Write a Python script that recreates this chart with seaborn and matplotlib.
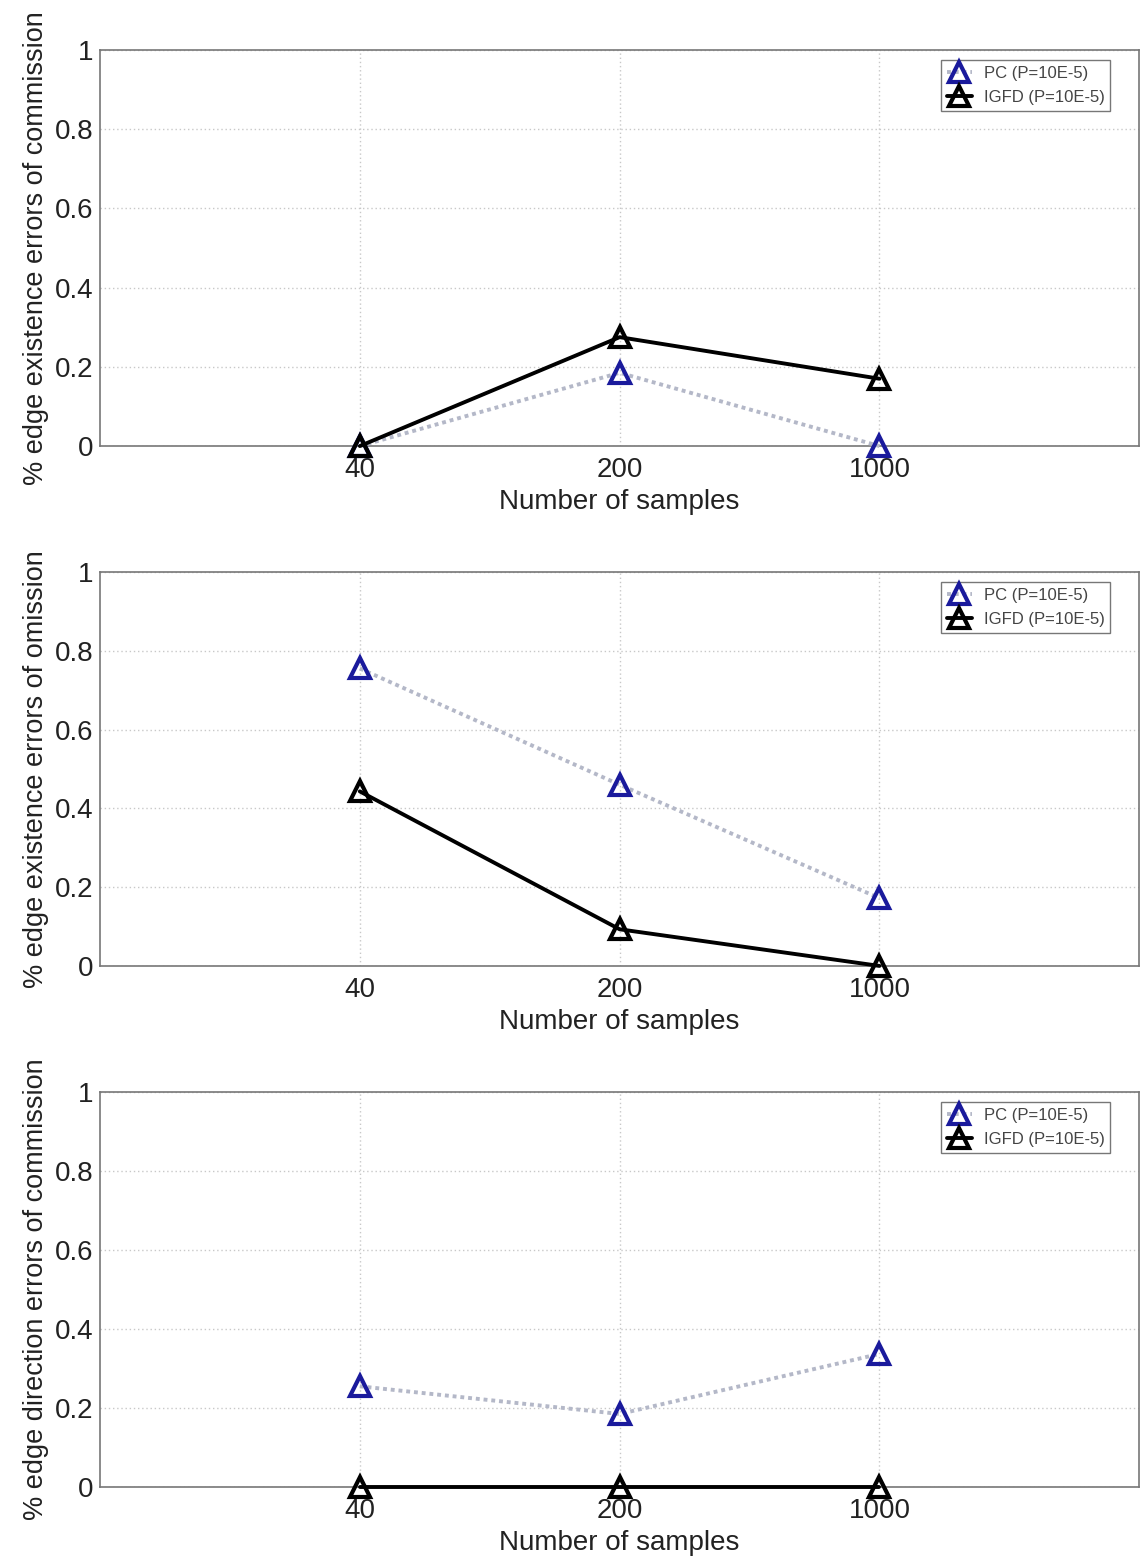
import numpy as np
import pandas as pd
import seaborn as sns
import matplotlib
matplotlib.use("Agg")
import matplotlib.pyplot as plt

samples = ["40", "200", "1000"]
series = ["PC (P=10E-5)", "IGFD (P=10E-5)"]

pc_commission = [0.0, 0.185, 0.0]
igfd_commission = [0.0, 0.275, 0.17]
pc_omission = [0.755, 0.46, 0.172]
igfd_omission = [0.443, 0.093, 0.0]
pc_direction = [0.255, 0.185, 0.337]
igfd_direction = [0.0, 0.0, 0.0]

ylabels = ["% edge existence errors of commission",
           "% edge existence errors of omission",
           "% edge direction errors of commission"]

panels = [(pc_commission, igfd_commission),
          (pc_omission, igfd_omission),
          (pc_direction, igfd_direction)]

sns.set_style("whitegrid")
plt.rcParams['font.family'] = ['Liberation Sans', 'DejaVu Sans']

fig = plt.figure(figsize=(11.44, 15.64), dpi=100)
rects = [[0.0874, 0.7148, 0.9085, 0.2532],
         [0.0874, 0.3824, 0.9085, 0.2519],
         [0.0874, 0.0492, 0.9085, 0.2526]]

styles = {series[0]: dict(color="#b4b8c8", ls=(0, (1, 1)), lw=2.8, mec="#1a1a9c"),
          series[1]: dict(color="black", ls="-", lw=2.8, mec="black")}

for rect, (pc, igfd), ylab in zip(rects, panels, ylabels):
    ax = fig.add_axes(rect)
    df = pd.DataFrame({
        "pos": list(range(1, len(samples) + 1)) * 2,
        "value": pc + igfd,
        "method": [series[0]] * len(samples) + [series[1]] * len(samples),
    })
    for name in series:
        st = styles[name]
        sns.lineplot(data=df[df["method"] == name], x="pos", y="value", ax=ax,
                     color=st["color"], linestyle=st["ls"], linewidth=st["lw"],
                     marker="^", markersize=14, markerfacecolor="none",
                     markeredgecolor=st["mec"], markeredgewidth=3, label=name,
                     clip_on=False, zorder=5)
    ax.set_xlim(0, 4)
    ax.set_ylim(0, 1)
    ax.set_xticks(range(1, len(samples) + 1))
    ax.set_xticklabels(samples)
    ax.set_yticks([0, 0.2, 0.4, 0.6, 0.8, 1])
    ax.set_yticklabels(["0", "0.2", "0.4", "0.6", "0.8", "1"])
    ax.tick_params(axis="both", labelsize=20, direction="in", length=6,
                   color="#555555", labelcolor="#222222")
    ax.tick_params(axis="x", pad=8)
    ax.tick_params(axis="y", pad=5)
    ax.set_xlabel("Number of samples", fontsize=20, labelpad=4, color="#222222")
    ax.set_ylabel(ylab, fontsize=19.5, labelpad=4, color="#222222")
    ax.grid(True, color="#c8c8c8", linestyle=(0, (1, 2)), linewidth=1)
    for sp in ax.spines.values():
        sp.set_color("#777777")
        sp.set_linewidth(1.2)
    leg = ax.legend(loc="upper right", fontsize=12, frameon=True, fancybox=False,
                    edgecolor="#555555", borderpad=0.35, handlelength=1.5,
                    handletextpad=0.7, labelspacing=0.55, borderaxespad=0,
                    bbox_to_anchor=(0.972, 0.975))
    for h in leg.get_lines():
        h.set_markersize(15)
    for t in leg.get_texts():
        t.set_color("#444444")

fig.savefig("out.png", dpi=100)
